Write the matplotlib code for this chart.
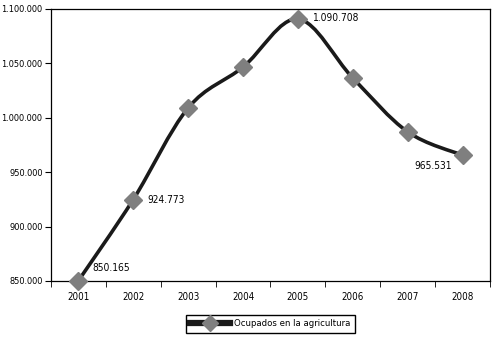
import matplotlib.pyplot as plt
from matplotlib.path import Path
from matplotlib.patches import PathPatch
from matplotlib.lines import Line2D
import numpy as np

years = ['2001', '2002', '2003', '2004', '2005', '2006', '2007', '2008']
ocupados = [850165, 924773, 1009000, 1046500, 1090708, 1036500, 987000, 965531]
etiquetas = {0: '850.165', 1: '924.773', 4: '1.090.708', 7: '965.531'}

plt.rcParams['font.family'] = ['DejaVu Sans']
plt.rcParams['font.stretch'] = 'condensed'

def miles(v, pos=None):
    return f'{int(v):,}'.replace(',', '.')

fig = plt.figure(figsize=(4.94, 3.41), dpi=100)
ax = fig.add_axes([0.103, 0.176, 0.889, 0.798])

x = np.arange(len(years))
y = np.array(ocupados, dtype=float)

# smoothed line like Excel (bezier through the points)
verts = [(x[0], y[0])]
codes = [Path.MOVETO]
n = len(x)
for i in range(n - 1):
    p0 = (x[max(i - 1, 0)], y[max(i - 1, 0)])
    p1 = (x[i], y[i])
    p2 = (x[i + 1], y[i + 1])
    p3 = (x[min(i + 2, n - 1)], y[min(i + 2, n - 1)])
    c1 = (p1[0] + (p2[0] - p0[0]) / 6, p1[1] + (p2[1] - p0[1]) / 6)
    c2 = (p2[0] - (p3[0] - p1[0]) / 6, p2[1] - (p3[1] - p1[1]) / 6)
    verts += [c1, c2, p2]
    codes += [Path.CURVE4] * 3
ax.add_patch(PathPatch(Path(verts, codes), facecolor='none', edgecolor='#1a1a1a', lw=2.6, zorder=2))
ax.plot(x, y, ls='none', marker='D', ms=9.5, color='#7f7f7f', zorder=3, clip_on=False)

offsets = {0: (10, 9), 1: (10, 0), 4: (11, 1), 7: (-21, -8)}
for i, t in etiquetas.items():
    ax.annotate(t, (x[i], y[i]), xytext=offsets[i], textcoords='offset points',
                fontsize=7.3, ha='center' if i == 7 else 'left', va='center')

ax.set_xlim(-0.5, n - 0.5)
ax.set_ylim(850000, 1100000)
ax.set_yticks(np.arange(850000, 1100001, 50000))
ax.yaxis.set_major_formatter(plt.FuncFormatter(miles))
ax.set_xticks(x)
ax.set_xticklabels(years)
ax.set_xticks(np.arange(-0.5, n, 1), minor=True)
ax.tick_params(axis='x', which='major', length=0, pad=8, labelsize=7)
ax.tick_params(axis='x', which='minor', length=4, direction='out')
ax.tick_params(axis='y', length=4, direction='out', labelsize=6.6, pad=2)
for s in ax.spines.values():
    s.set_linewidth(0.9)

h = Line2D([], [], color='#1a1a1a', lw=4.5, marker='D', ms=8.5, mfc='#7f7f7f', mec='#7f7f7f')
fig.legend([h], ['Ocupados en la agricultura'], loc='center', bbox_to_anchor=(0.547, 0.05),
           fontsize=6.8, frameon=True, fancybox=False, edgecolor='black', handlelength=4.2,
           borderpad=0.5, handletextpad=0.4, framealpha=1)

fig.savefig('out.png', dpi=100)
